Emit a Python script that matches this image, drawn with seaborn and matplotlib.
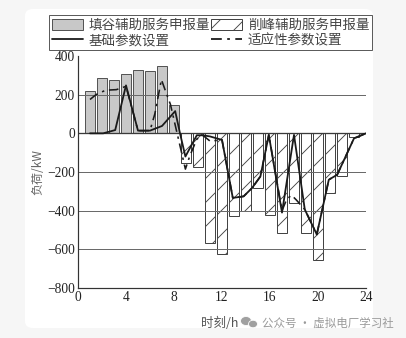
import numpy as np
import pandas as pd
import matplotlib
matplotlib.use("Agg")
import matplotlib.pyplot as plt
from matplotlib.patches import Patch, FancyBboxPatch, Ellipse
from matplotlib.lines import Line2D
import seaborn as sns

# ---------------- data ----------------
fill_hours = [1, 2, 3, 4, 5, 6, 7, 8]
fill_values = [218, 284, 278, 306, 330, 321, 349, 147]

peak_hours = [9, 10, 11, 12, 13, 14, 15, 16, 17, 18, 19, 20, 21, 22, 23]
peak_values = [-154, -172, -569, -626, -425, -403, -283, -420, -518, -362,
               -518, -655, -308, -223, -20]

base_t = [1.0, 2.1, 3.1, 4.0, 5.0, 6.0, 7.0, 8.1, 8.5, 8.95, 9.9, 10.4,
          11.0, 12.0, 12.9, 13.8, 14.5, 15.2, 15.9, 17.0, 18.0, 18.9,
          19.9, 20.9, 21.6, 22.3, 23.0, 24.0]
base_v = [0, 0, 17, 248, 14, 14, 38, 115, 0, -120, -10, -10,
          -16, -34, -334, -326, -283, -223, -8, -410, -8, -394,
          -523, -240, -214, -120, -26, 0]

adapt_t = [1.0, 1.5, 2.3, 3.2, 4.0, 5.0, 6.0, 6.4, 6.95, 7.4, 7.7, 8.95,
           9.3, 9.9, 10.4, 11.0, 12.0, 12.9, 13.8, 14.5, 15.2, 15.9,
           17.0, 17.4, 17.8, 18.2, 18.9, 19.9, 20.9, 21.6, 22.3, 23.0, 24.0]
adapt_v = [175, 200, 223, 226, 243, 14, 14, 100, 278, 200, 150, -185,
           -120, -30, -10, -40, -34, -334, -326, -283, -223, -8,
           -400, -340, -320, -345, -394, -523, -240, -214, -120, -26, 0]

legend_labels = ["填谷辅助服务申报量", "削峰辅助服务申报量", "基础参数设置", "适应性参数设置"]
x_ticks = [0, 4, 8, 12, 16, 20, 24]
y_ticks = [-800, -600, -400, -200, 0, 200, 400]
grid_levels = [200, 0, -200, -400, -600]

# ---------------- style ----------------
sns.set_theme(style="white")
plt.rcParams["font.family"] = ["Liberation Serif", "Noto Sans CJK SC", "DejaVu Sans"]
plt.rcParams["hatch.linewidth"] = 0.9
plt.rcParams["axes.unicode_minus"] = True

W, H = 406, 338
fig = plt.figure(figsize=(W / 72, H / 72), dpi=72, facecolor="#f6f6f6")

# white card
card = FancyBboxPatch((25 / W, 1 - 328 / H), (373 - 25) / W, (328 - 9) / H,
                      boxstyle="round,pad=0,rounding_size=0.02",
                      transform=fig.transFigure, facecolor="white",
                      edgecolor="none", zorder=-10)
fig.patches.append(card)

ax = fig.add_axes([78 / W, 1 - 288 / H, (366 - 78) / W, (288 - 56) / H])
ax.set_facecolor("none")

df_fill = pd.DataFrame({"t": fill_hours, "v": fill_values})
df_peak = pd.DataFrame({"t": peak_hours, "v": peak_values})

sns.barplot(data=df_fill, x="t", y="v", native_scale=True, width=0.85,
            color="#c8c8c8", saturation=1, edgecolor="#555555", linewidth=1.0,
            ax=ax, zorder=1, errorbar=None)
sns.barplot(data=df_peak, x="t", y="v", native_scale=True, width=0.85,
            color="white", saturation=1, edgecolor="#444444", linewidth=1.0,
            hatch="/", ax=ax, zorder=1, errorbar=None)

for g in grid_levels:
    ax.axhline(g, color="#3a3a3a" if g == 0 else "#6a6a6a",
               lw=1.3 if g == 0 else 1.0, zorder=1.5)

sns.lineplot(x=adapt_t, y=adapt_v, sort=False, estimator=None, color="#1a1a1a",
             lw=1.6, linestyle=(0, (6, 3, 1.5, 3)), ax=ax, zorder=3)
sns.lineplot(x=base_t, y=base_v, sort=False, estimator=None, color="#1a1a1a",
             lw=1.8, ax=ax, zorder=4)

ax.set_xlim(0, 24)
ax.set_ylim(-800, 400)
ax.set_xticks(x_ticks)
ax.set_yticks(y_ticks)
ax.set_xticks(range(2, 24, 4), minor=True)
ax.set_yticks(range(-700, 400, 200), minor=True)
ax.tick_params(axis="both", which="major", direction="in", length=5, width=1,
               color="#333333", labelsize=13.5, labelcolor="#222222", pad=3)
ax.tick_params(axis="both", which="minor", direction="in", length=3, width=1,
               color="#333333")
for s in ["top", "right"]:
    ax.spines[s].set_visible(False)
for s in ["left", "bottom"]:
    ax.spines[s].set_color("#333333")
    ax.spines[s].set_linewidth(1.2)

ax.set_xlabel("")
ax.set_ylabel("负荷/kW", family=["Noto Sans CJK SC"], fontsize=12,
              color="#666666", labelpad=3)

fig.text(220 / W, 1 - 323 / H, "时刻/h", family=["Noto Sans CJK SC"],
         fontsize=12.5, color="#555555", ha="center", va="center")

# watermark
fig.patches.append(Ellipse((246 / W, 1 - 321 / H), 11 / W, 9 / H,
                           transform=fig.transFigure, facecolor="#a0a0a0",
                           edgecolor="white", lw=0.8, zorder=5))
fig.patches.append(Ellipse((253 / W, 1 - 324 / H), 9 / W, 7.5 / H,
                           transform=fig.transFigure, facecolor="#a0a0a0",
                           edgecolor="white", lw=0.8, zorder=5))
fig.text(262 / W, 1 - 323 / H, "公众号 · 虚拟电厂学习社",
         family=["Noto Sans CJK SC"], fontsize=11.5, color="#9a9a9a",
         ha="left", va="center")

h_fill = Patch(facecolor="#c8c8c8", edgecolor="#555555", lw=1.0)
h_peak = Patch(facecolor="white", edgecolor="#444444", lw=1.0, hatch="/")
h_base = Line2D([], [], color="#1a1a1a", lw=1.8)
h_adapt = Line2D([], [], color="#1a1a1a", lw=1.8, linestyle=(0, (6, 3, 1.5, 3)))
# column-major ordering so rows read: fill | peak ; base | adapt
handles = [h_fill, h_base, h_peak, h_adapt]
labels = [legend_labels[0], legend_labels[2], legend_labels[1], legend_labels[3]]
leg = fig.legend(handles, labels, loc="lower left",
                 bbox_to_anchor=(49 / W, 1 - 50 / H, (372 - 49) / W, (50 - 11) / H),
                 mode="expand", ncol=2, frameon=True, fancybox=False,
                 borderaxespad=0, borderpad=0.2, handlelength=2.3,
                 handleheight=0.85, handletextpad=0.45, columnspacing=0.1,
                 labelspacing=0.1, prop={"family": ["Noto Sans CJK SC"], "size": 13.5})
leg.get_frame().set_edgecolor("#333333")
leg.get_frame().set_linewidth(1.0)
for t in leg.get_texts():
    t.set_color("#444444")

fig.savefig("out.png", dpi=72, facecolor=fig.get_facecolor())
